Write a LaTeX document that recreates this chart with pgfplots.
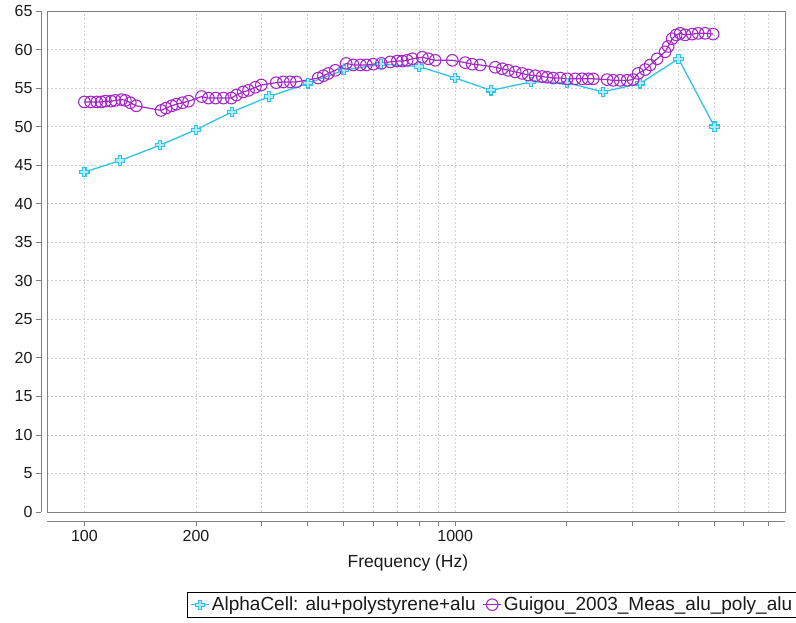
\documentclass[border=0pt]{standalone}
\usepackage{fontspec}
\setmainfont{Liberation Sans}
\usepackage{pgfplots}
\pgfplotsset{compat=1.18}
\definecolor{cyanline}{RGB}{45,195,230}
\definecolor{cyanfill}{RGB}{175,235,250}
\definecolor{purp}{RGB}{165,40,200}
\definecolor{gridc}{RGB}{208,208,208}
\definecolor{axc}{RGB}{128,128,128}
\definecolor{txt}{RGB}{25,25,25}
\pgfdeclareplotmark{fatplus}{%
  \pgfpathmoveto{\pgfqpoint{-1.6pt}{4.6pt}}%
  \pgfpathlineto{\pgfqpoint{1.6pt}{4.6pt}}%
  \pgfpathlineto{\pgfqpoint{1.6pt}{1.6pt}}%
  \pgfpathlineto{\pgfqpoint{4.6pt}{1.6pt}}%
  \pgfpathlineto{\pgfqpoint{4.6pt}{-1.6pt}}%
  \pgfpathlineto{\pgfqpoint{1.6pt}{-1.6pt}}%
  \pgfpathlineto{\pgfqpoint{1.6pt}{-4.6pt}}%
  \pgfpathlineto{\pgfqpoint{-1.6pt}{-4.6pt}}%
  \pgfpathlineto{\pgfqpoint{-1.6pt}{-1.6pt}}%
  \pgfpathlineto{\pgfqpoint{-4.6pt}{-1.6pt}}%
  \pgfpathlineto{\pgfqpoint{-4.6pt}{1.6pt}}%
  \pgfpathlineto{\pgfqpoint{-1.6pt}{1.6pt}}%
  \pgfpathclose
  \pgfusepathqfillstroke}
\begin{document}
\begin{tikzpicture}
\path[use as bounding box] (-47pt,-110.5pt) rectangle (749pt,512pt);
\begin{axis}[
  name=ax,
  scale only axis, width=738pt, height=501pt,
  xmode=log, xmin=79.3, xmax=7750, ymin=0, ymax=65,
  xtick={100,200,1000}, xticklabels={100,200,1000},
  minor xtick={300,400,500,600,700,800,900,2000,3000,4000,5000,6000,7000},
  ytick={0,5,...,65},
  grid=both,
  major grid style={gridc, dash pattern=on 2pt off 2pt, line width=0.6pt},
  minor grid style={gridc, dash pattern=on 2pt off 2pt, line width=0.6pt},
  axis x line*=bottom, axis y line*=left,
  axis x line shift=9.5pt,
  axis y line shift=6pt,
  axis line style={-, axc, line width=0.8pt},
  tick align=outside,
  major tick length=5pt, minor tick length=5pt,
  tick style={axc, line width=0.8pt},
  /pgf/number format/assume math mode=true,
  ticklabel style={font=\fontsize{16}{16}\selectfont, text=txt},
  xlabel={Frequency (Hz)},
  every axis x label/.style={at={(axis description cs:0.489,0)}, anchor=center, yshift=-50.5pt, font=\fontsize{17.5}{17.5}\selectfont, text=txt},
  legend style={at={(axis description cs:0.19,-0.159)}, anchor=north west, draw=black, line width=0.8pt,
    font=\fontsize{19}{22}\selectfont, text=txt, legend columns=2, inner xsep=3pt, inner ysep=3pt,
    /tikz/every even column/.append style={column sep=5pt}},
  legend cell align=left,
  legend image code/.code={\draw[mark repeat=2,mark phase=2] plot coordinates {(0pt,0pt) (9pt,0pt) (18pt,0pt)};},
]
\addplot[cyanline, line width=1.3pt, mark=fatplus, mark options={draw=cyanline, fill=cyanfill, line width=1.1pt}] coordinates {
(100,44.1)(125,45.6)(160,47.6)(200,49.6)(250,51.9)(315,53.9)(400,55.6)(500,57.3)(630,58.1)(800,57.8)(1000,56.3)(1250,54.7)(1600,55.8)(2000,55.7)(2500,54.5)(3150,55.6)(4000,58.8)(5000,50.0)
};
\addlegendentry{AlphaCell: alu+polystyrene+alu}
\addplot[purp, line width=1.2pt, mark=o, mark size=5.8pt, mark options={draw=purp, line width=1.1pt}] coordinates {
(100,53.2)(104,53.2)(108,53.2)(111,53.2)(114,53.3)(118,53.3)(121,53.4)(126,53.5)(129,53.4)(133,53.1)(138,52.7)
(161,52.1)(166,52.4)(172,52.7)(177,52.9)(184,53.1)(191,53.3)(207,53.9)(216,53.7)(226,53.7)(237,53.7)(249,53.7)
(257,54.1)(268,54.5)(277,54.7)(289,55.1)(300,55.4)(329,55.7)(344,55.8)(359,55.8)(373,55.8)(427,56.3)(441,56.6)
(455,56.9)(475,57.3)(508,58.2)(531,58.0)(555,58.0)(576,58.0)(601,58.1)(632,58.2)(668,58.4)(698,58.5)(720,58.5)
(742,58.6)(766,58.8)(815,59.0)(846,58.8)(883,58.6)(982,58.6)(1064,58.3)(1111,58.1)(1168,58.0)(1282,57.7)(1339,57.5)
(1390,57.3)(1451,57.1)(1516,56.9)(1573,56.7)(1643,56.6)(1716,56.5)(1770,56.4)(1837,56.3)(1919,56.3)(2004,56.2)
(2106,56.2)(2199,56.2)(2283,56.2)(2355,56.2)(2568,56.1)(2666,56.0)(2784,56.0)(2908,56.0)(3018,56.1)(3113,56.9)
(3252,57.4)(3355,58.0)(3503,58.8)(3681,59.7)(3751,60.4)(3845,61.4)(3942,61.9)(4042,62.1)(4169,61.9)(4355,62.0)
(4519,62.1)(4720,62.1)(4960,62.0)
};
\addlegendentry{Guigou\_2003\_Meas\_alu\_poly\_alu}
\end{axis}
\draw[axc, line width=0.8pt] (ax.south west) rectangle (ax.north east);
\end{tikzpicture}
\end{document}
